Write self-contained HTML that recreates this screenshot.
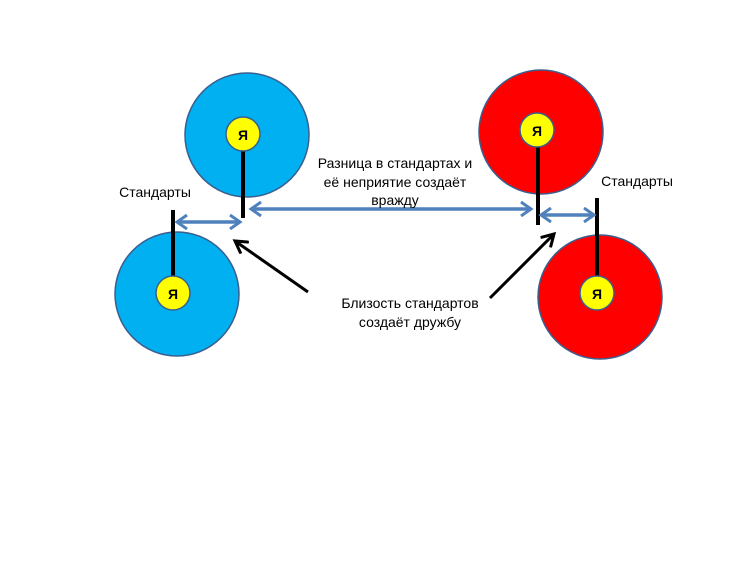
<!DOCTYPE html>
<html><head><meta charset="utf-8"><style>
html,body{margin:0;padding:0;background:#fff;}
svg text{font-family:"Liberation Sans",sans-serif;font-size:14px;fill:#000;}
</style></head><body>
<svg width="746" height="560" viewBox="0 0 746 560" xmlns="http://www.w3.org/2000/svg">
<defs>
<marker id="ba" markerWidth="14" markerHeight="16" refX="11" refY="8" orient="auto-start-reverse" markerUnits="userSpaceOnUse"><path d="M1,1 L11,8 L1,15" fill="none" stroke="#4f81bd" stroke-width="3"/></marker>
<marker id="ka" markerWidth="16" markerHeight="16" refX="13" refY="8" orient="auto" markerUnits="userSpaceOnUse"><path d="M1,1 L13,8 L1,15" fill="none" stroke="#000" stroke-width="3"/></marker>
</defs>
<circle cx="247" cy="135" r="62" fill="#00b0f0" stroke="#3a5f8f" stroke-width="1.5"/>
<circle cx="177" cy="294" r="62" fill="#00b0f0" stroke="#3a5f8f" stroke-width="1.5"/>
<circle cx="541" cy="132" r="62" fill="#ff0000" stroke="#3a5f8f" stroke-width="1.5"/>
<circle cx="600" cy="297" r="62" fill="#ff0000" stroke="#3a5f8f" stroke-width="1.5"/>
<g stroke="#000" stroke-width="4">
<line x1="243" y1="150" x2="243" y2="218"/>
<line x1="173" y1="210" x2="173" y2="280"/>
<line x1="538" y1="145" x2="538" y2="225"/>
<line x1="597" y1="198" x2="597" y2="280"/>
</g>
<g fill="#ffff00" stroke="#3a5f8f" stroke-width="1.5">
<circle cx="243" cy="134" r="17"/><circle cx="173" cy="293" r="17"/>
<circle cx="537" cy="130" r="17"/><circle cx="597" cy="293" r="17"/>
</g>
<g text-anchor="middle">
<text x="243" y="140" style="font-weight:bold">Я</text><text x="173" y="299" style="font-weight:bold">Я</text>
<text x="537" y="136" style="font-weight:bold">Я</text><text x="597" y="299" style="font-weight:bold">Я</text>
</g>
<g stroke="#4f81bd" stroke-width="3.5" fill="none">
<line x1="177" y1="222" x2="240" y2="222" marker-start="url(#ba)" marker-end="url(#ba)"/>
<line x1="251" y1="209" x2="531" y2="209" marker-start="url(#ba)" marker-end="url(#ba)"/>
<line x1="541" y1="215" x2="594" y2="215" marker-start="url(#ba)" marker-end="url(#ba)"/>
</g>
<g stroke="#000" stroke-width="3">
<line x1="308" y1="292" x2="235" y2="241" marker-end="url(#ka)"/>
<line x1="490" y1="298" x2="554" y2="234" marker-end="url(#ka)"/>
</g>
<g text-anchor="middle">
<text x="155" y="197">Стандарты</text>
<text x="637" y="186">Стандарты</text>
<text x="395" y="168">Разница в стандартах и</text>
<text x="395" y="187">её неприятие создаёт</text>
<text x="395" y="205">вражду</text>
<text x="410" y="308">Близость стандартов</text>
<text x="410" y="327">создаёт дружбу</text>
</g>
</svg>
</body></html>
